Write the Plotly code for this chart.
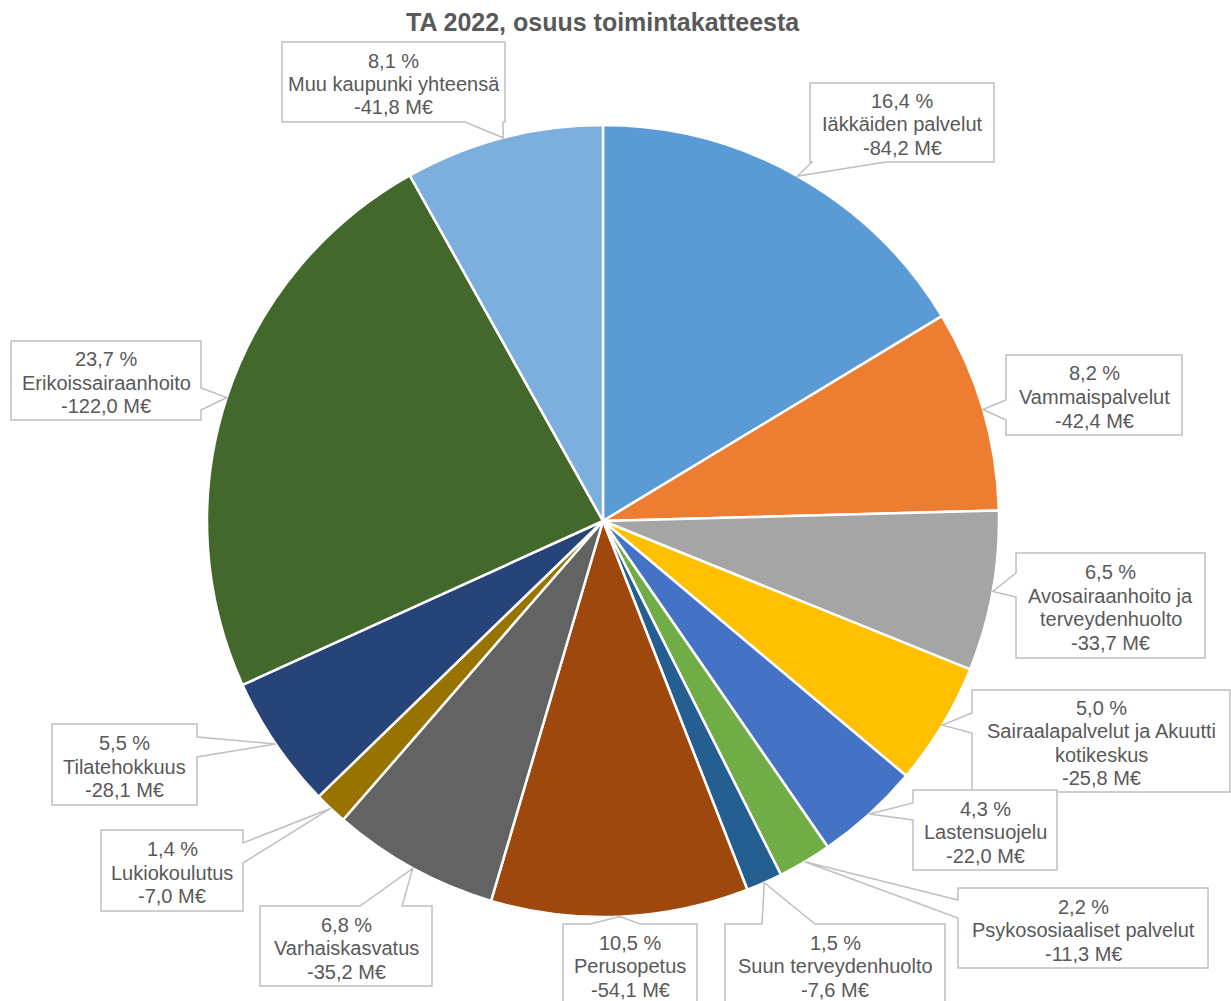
import math
import plotly.graph_objects as go

# ---------------- data ----------------
categories = [
    "Iäkkäiden palvelut",
    "Vammaispalvelut",
    "Avosairaanhoito ja<br>terveydenhuolto",
    "Sairaalapalvelut ja Akuutti<br>kotikeskus",
    "Lastensuojelu",
    "Psykososiaaliset palvelut",
    "Suun terveydenhuolto",
    "Perusopetus",
    "Varhaiskasvatus",
    "Lukiokoulutus",
    "Tilatehokkuus",
    "Erikoissairaanhoito",
    "Muu kaupunki yhteensä",
]
shares = [16.4, 8.2, 6.5, 5.0, 4.3, 2.2, 1.5, 10.5, 6.8, 1.4, 5.5, 23.7, 8.1]
amounts = [-84.2, -42.4, -33.7, -25.8, -22.0, -11.3, -7.6, -54.1, -35.2, -7.0, -28.1, -122.0, -41.8]
colors = ["#5B9BD5", "#ED7D31", "#A5A5A5", "#FFC000", "#4472C4", "#70AD47", "#255E91",
          "#9E480E", "#636363", "#997300", "#264478", "#43682B", "#7CAFDD"]
title = "TA 2022, osuus toimintakatteesta"

# ---------------- layout constants (pixels) ----------------
W, H = 1231, 1001
CX, CY, R = 603, 521, 396
TEXT = "#595959"
BORDER = "#BFBFBF"
FONT = "Liberation Sans, Arial, sans-serif"
LINE_H = 23.5

# callout boxes: (x0, y0, x1, y1), side where the pointer leaves, base span on that side
callouts = [
    ((810, 83, 994, 162), "bottom", (812, 886)),
    ((1006, 355, 1182, 435), "left", (400, 420)),
    ((1016, 553, 1205, 658), "left", (573, 597)),
    ((972, 690, 1230, 792), "left", (713, 733)),
    ((913, 790, 1057, 870), "left", (803, 820)),
    ((958, 888, 1208, 968), "left", (900, 918)),
    ((725, 924, 945, 1004), "top", (762, 815)),
    ((563, 924, 697, 1004), "top", (590, 640)),
    ((260, 906, 432, 986), "top", (360, 402)),
    ((101, 830, 243, 911), "right", (843, 863)),
    ((52, 724, 197, 805), "right", (737, 757)),
    ((11, 341, 201, 420), "right", (388, 410)),
    ((282, 42, 505, 122), "bottom", (465, 503)),
]


def fmt(v, suffix):
    return f"{v:.1f}".replace(".", ",") + suffix


def px(x):
    return x / W


def py(y):
    return 1 - y / H


values = [abs(a) for a in amounts]
total = sum(values)

fig = go.Figure()
fig.add_trace(go.Pie(
    labels=[c.replace("<br>", " ") for c in categories],
    values=values,
    marker=dict(colors=colors, line=dict(color="white", width=2.5)),
    sort=False,
    direction="clockwise",
    rotation=0,
    textinfo="none",
    hoverinfo="label+value",
    showlegend=False,
    domain=dict(x=[(CX - R) / W, (CX + R) / W], y=[(H - CY - R) / H, (H - CY + R) / H]),
))

shapes = []
annotations = []
cum = 0.0
for i, cat in enumerate(categories):
    mid = (cum + values[i] / 2) / total * 2 * math.pi
    cum += values[i]
    tip = (CX + R * math.sin(mid), CY - R * math.cos(mid))
    (x0, y0, x1, y1), side, (lo, hi) = callouts[i]
    pts = [(x0, y0)]
    if side == "top":
        pts += [(lo, y0), tip, (hi, y0)]
    pts.append((x1, y0))
    if side == "right":
        pts += [(x1, lo), tip, (x1, hi)]
    pts.append((x1, y1))
    if side == "bottom":
        pts += [(hi, y1), tip, (lo, y1)]
    pts.append((x0, y1))
    if side == "left":
        pts += [(x0, hi), tip, (x0, lo)]
    path = "M " + " L ".join(f"{px(x):.5f},{py(y):.5f}" for x, y in pts) + " Z"
    shapes.append(dict(type="path", path=path, xref="paper", yref="paper",
                       fillcolor="white", line=dict(color=BORDER, width=1.5), layer="above"))
    lines = [fmt(shares[i], " %")] + cat.split("<br>") + [fmt(amounts[i], " M€")]
    yc = (y0 + y1) / 2 + 2
    n = len(lines)
    for k, ln in enumerate(lines):
        yk = yc + (k - (n - 1) / 2) * LINE_H
        annotations.append(dict(
            x=px((x0 + x1) / 2), y=py(yk), xref="paper", yref="paper",
            xanchor="center", yanchor="middle", text=ln, showarrow=False, align="center",
            font=dict(family=FONT, size=20, color=TEXT),
        ))

annotations.append(dict(
    x=px(603), y=py(22), xref="paper", yref="paper", xanchor="center", yanchor="middle",
    text="<b>" + title + "</b>", showarrow=False,
    font=dict(family=FONT, size=25, color=TEXT),
))

fig.update_layout(
    width=W, height=H,
    margin=dict(l=0, r=0, t=0, b=0),
    paper_bgcolor="white", plot_bgcolor="white",
    shapes=shapes, annotations=annotations,
)

fig.write_html("out.html", config={"displayModeBar": False},
               post_script="document.body.style.margin='0';document.body.style.overflow='hidden';")
